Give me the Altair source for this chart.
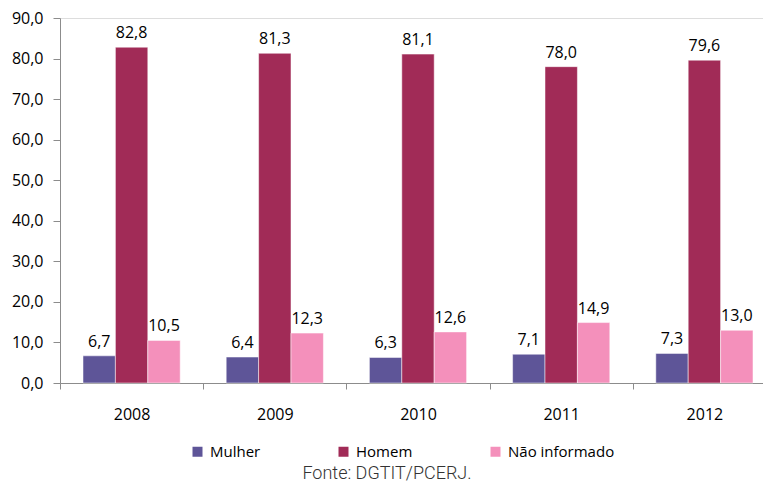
import altair as alt
import pandas as pd

anos = ["2008", "2009", "2010", "2011", "2012"]
series = ["Mulher", "Homem", "Não informado"]
mulher = [6.7, 6.4, 6.3, 7.1, 7.3]
homem = [82.8, 81.3, 81.1, 78.0, 79.6]
nao_informado = [10.5, 12.3, 12.6, 14.9, 13.0]
cores = ["#5e5598", "#a12b57", "#f490bb"]
fonte = "Fonte: DGTIT/PCERJ."

rows = []
for i, a in enumerate(anos):
    for s, vals in zip(series, [mulher, homem, nao_informado]):
        rows.append({"ano": a, "sexo": s, "valor": vals[i]})
df = pd.DataFrame(rows)

FONT = "Open Sans"
FS = 16
W, H = 703, 365

x = alt.X("ano:N", sort=anos, title=None,
          scale=alt.Scale(paddingInner=0, paddingOuter=0, range=[0, 716]),
          axis=alt.Axis(labelAngle=0, tickBand="extent", domainColor="#8c8c8c",
                        tickColor="#8c8c8c", tickSize=6, labelPadding=17,
                        labelFontSize=FS, labelFont=FONT, labelColor="#000"))
xo = alt.XOffset("sexo:N", sort=series,
                 scale=alt.Scale(paddingOuter=0.71, paddingInner=0))
y = alt.Y("valor:Q", title=None,
          scale=alt.Scale(domain=[0, 90], nice=False),
          axis=alt.Axis(values=list(range(0, 91, 10)), grid=False,
                        labelExpr="replace(format(datum.value, '.1f'), '.', ',')",
                        domainColor="#8c8c8c", tickColor="#8c8c8c", tickSize=7,
                        labelPadding=10, labelFontSize=FS, labelFont=FONT,
                        labelColor="#000"))
color = alt.Color("sexo:N", sort=series,
                  scale=alt.Scale(domain=series, range=cores),
                  legend=alt.Legend(title=None, orient="none", direction="horizontal",
                                    legendX=130, legendY=426, symbolType="square",
                                    symbolSize=100, symbolStrokeWidth=0,
                                    labelFontSize=15, labelFont=FONT, labelColor="#000",
                                    columnPadding=75, labelOffset=5))

base = alt.Chart(df)
bars = base.mark_bar(stroke="white", strokeWidth=0.5).encode(x=x, xOffset=xo, y=y, color=color)
labels = base.transform_calculate(
    rotulo="replace(format(datum.valor, '.1f'), '.', ',')"
).mark_text(baseline="bottom", dy=-6, fontSize=FS, font=FONT, color="#000").encode(
    x=x, xOffset=xo, y=y, text="rotulo:N")

src = alt.Chart(pd.DataFrame({"t": [fonte]})).mark_text(
    fontSize=18, font="Roboto", fontWeight=300, color="#333", baseline="alphabetic"
).encode(x=alt.value(327), y=alt.value(461), text="t:N")

chart = alt.layer(bars, labels, src).properties(
    width=W, height=H,
    autosize=alt.AutoSizeParams(type="none"),
    padding={"left": 52, "top": 10, "right": 0, "bottom": 100},
).configure_view(stroke=None).configure(background="white")

chart.save("out.html", embed_options={"renderer": "svg", "actions": False})
